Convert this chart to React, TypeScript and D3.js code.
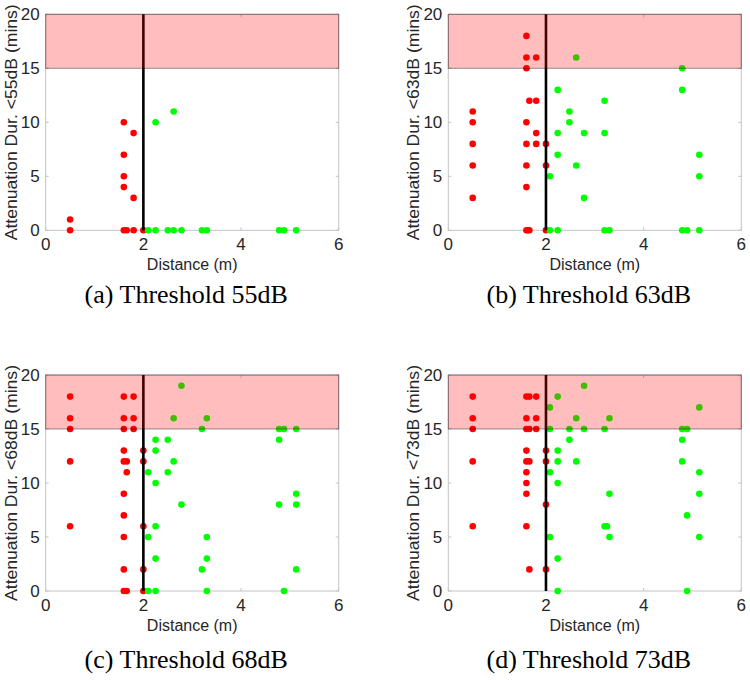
import React from "react";
import * as d3 from "d3";

type Pt = [number, number];

const thresholds = ["55dB", "63dB", "68dB", "73dB"];
const captions = ["(a) Threshold 55dB", "(b) Threshold 63dB", "(c) Threshold 68dB", "(d) Threshold 73dB"];
const xTicks = [0, 2, 4, 6];
const yTicks = [0, 5, 10, 15, 20];
const limitDistance = 2;
const bandRange: [number, number] = [15, 20];

const redA: Pt[] = [[0.5,1],[0.5,0],[1.6,10],[1.6,7],[1.6,5],[1.6,4],[1.6,0],[1.66,0],[1.8,9],[1.8,3],[1.8,0],[2.0,0]];
const greenA: Pt[] = [[2.1,0],[2.25,0],[2.25,10],[2.5,0],[2.62,0],[2.62,11],[2.78,0],[3.2,0],[3.3,0],[4.78,0],[4.88,0],[5.13,0]];

const redB: Pt[] = [[0.5,11],[0.5,10],[0.5,8],[0.5,6],[0.5,3],[1.6,18],[1.6,16],[1.6,15],[1.6,10],[1.6,8],[1.6,6],[1.6,4],[1.6,0],[1.63,0],[1.66,12],[1.66,0],[1.8,16],[1.8,12],[1.8,9],[1.8,8],[2.0,8],[2.0,6],[2.0,0]];
const greenB: Pt[] = [[2.08,5],[2.08,0],[2.24,13],[2.24,9],[2.24,7],[2.24,0],[2.48,11],[2.48,10],[2.62,16],[2.62,6],[2.78,9],[2.78,3],[3.2,12],[3.2,9],[3.2,0],[3.3,0],[4.79,15],[4.79,13],[4.79,0],[4.89,0],[5.14,7],[5.14,5],[5.14,0]];

const redC: Pt[] = [[0.5,18],[0.5,16],[0.5,15],[0.5,12],[0.5,6],[1.6,18],[1.6,16],[1.6,15],[1.6,13],[1.6,12],[1.6,9],[1.6,7],[1.6,5],[1.6,2],[1.6,0],[1.66,12],[1.66,11],[1.66,0],[1.8,18],[1.8,16],[1.8,15],[2.0,13],[2.0,12],[2.0,6],[2.0,2],[2.0,0]];
const greenC: Pt[] = [[2.1,11],[2.1,5],[2.1,0],[2.25,14],[2.25,13],[2.25,10],[2.25,6],[2.25,3],[2.25,0],[2.5,14],[2.5,11],[2.62,16],[2.62,12],[2.78,19],[2.78,8],[3.2,15],[3.2,2],[3.3,16],[3.3,5],[3.3,3],[3.3,0],[4.78,15],[4.78,14],[4.78,8],[4.88,15],[4.88,0],[5.13,15],[5.13,9],[5.13,8],[5.13,2]];

const redD: Pt[] = [[0.5,18],[0.5,16],[0.5,15],[0.5,12],[0.5,6],[1.6,18],[1.6,16],[1.6,15],[1.6,13],[1.6,12],[1.6,11],[1.6,10],[1.6,9],[1.6,6],[1.66,18],[1.66,15],[1.66,12],[1.66,2],[1.8,18],[1.8,16],[1.8,15],[2.0,13],[2.0,12],[2.0,8],[2.0,2]];
const greenD: Pt[] = [[2.08,17],[2.08,15],[2.08,11],[2.08,5],[2.24,18],[2.24,13],[2.24,12],[2.24,10],[2.24,3],[2.24,0],[2.48,15],[2.48,14],[2.62,16],[2.62,12],[2.78,19],[2.78,15],[3.2,15],[3.2,6],[3.25,6],[3.3,16],[3.3,9],[3.3,5],[4.79,15],[4.79,14],[4.79,12],[4.89,15],[4.89,7],[4.89,0],[5.14,17],[5.14,11],[5.14,9],[5.14,5]];

const redSets = [redA, redB, redC, redD];
const greenSets = [greenA, greenB, greenC, greenD];

const W = 750;
const H = 680;
const plotW = 293;
const plotH = 216;
const origins: [number, number][] = [
  [45.7, 14.3],
  [448.3, 14.3],
  [45.7, 375],
  [448.3, 375],
];
const captionDy = [73, 73, 77, 77];

const axisFont = "'Liberation Sans', Arial, Helvetica, sans-serif";
const capFont = "'Liberation Serif', 'Times New Roman', serif";
const axisGray = "#c4c4c4";
const textDark = "#262626";

function Panel({ idx }: { idx: number }) {
  const [ox, oy] = origins[idx];
  const x = d3.scaleLinear().domain([0, 6]).range([ox, ox + plotW]);
  const y = d3.scaleLinear().domain([0, 20]).range([oy + plotH, oy]);
  const r = 3.3;
  const tickLen = 3;
  const cx = ox + plotW / 2;
  return (
    <g>
      <rect x={x(0)} y={y(20)} width={x(6) - x(0)} height={y(0) - y(20)} fill="white" stroke={axisGray} strokeWidth={1} />
      {xTicks.map((t) => (
        <g key={"xt" + t}>
          <line x1={x(t)} x2={x(t)} y1={y(0)} y2={y(0) - tickLen} stroke={axisGray} />
          <line x1={x(t)} x2={x(t)} y1={y(20)} y2={y(20) + tickLen} stroke={axisGray} />
          <text x={x(t)} y={y(0) + 19.5} textAnchor="middle" fontFamily={axisFont} fontSize={17} fill={textDark}>{t}</text>
        </g>
      ))}
      {yTicks.map((t) => (
        <g key={"yt" + t}>
          <line x1={x(0)} x2={x(0) + tickLen} y1={y(t)} y2={y(t)} stroke={axisGray} />
          <line x1={x(6)} x2={x(6) - tickLen} y1={y(t)} y2={y(t)} stroke={axisGray} />
          <text x={x(0) - 6} y={y(t) + 6} textAnchor="end" fontFamily={axisFont} fontSize={17} fill={textDark}>{t}</text>
        </g>
      ))}
      {redSets[idx].map((p, i) => (
        <circle key={"r" + i} cx={x(p[0])} cy={y(p[1])} r={r} fill="#ff0000" />
      ))}
      {greenSets[idx].map((p, i) => (
        <circle key={"g" + i} cx={x(p[0])} cy={y(p[1])} r={r} fill="#00ff00" />
      ))}
      <line x1={x(limitDistance)} x2={x(limitDistance)} y1={y(0)} y2={y(20)} stroke="#000" strokeWidth={2.6} />
      <rect
        x={x(0)}
        y={y(bandRange[1])}
        width={x(6) - x(0)}
        height={y(bandRange[0]) - y(bandRange[1])}
        fill="#ff0000"
        fillOpacity={0.26}
        stroke="#000"
        strokeOpacity={0.4}
        strokeWidth={1}
      />
      <text
        transform={`translate(${ox - 29},${oy + plotH / 2}) rotate(-90)`}
        textAnchor="middle"
        fontFamily={axisFont}
        fontSize={17}
        fill={textDark}
        textLength={236}
        lengthAdjust="spacingAndGlyphs"
      >
        {`Attenuation Dur. <${thresholds[idx]} (mins)`}
      </text>
      <text x={cx} y={oy + plotH + 40} textAnchor="middle" fontFamily={axisFont} fontSize={16} fill={textDark}>
        Distance (m)
      </text>
      <text x={cx - 6} y={oy + plotH + captionDy[idx]} textAnchor="middle" fontFamily={capFont} fontSize={26} fill="#000">
        {captions[idx]}
      </text>
    </g>
  );
}

export default function App() {
  return (
    <svg width={W} height={H} style={{ position: "absolute", left: 0, top: 0, background: "white" }}>
      <rect x={0} y={0} width={W} height={H} fill="white" />
      {[0, 1, 2, 3].map((i) => (
        <Panel key={i} idx={i} />
      ))}
    </svg>
  );
}
